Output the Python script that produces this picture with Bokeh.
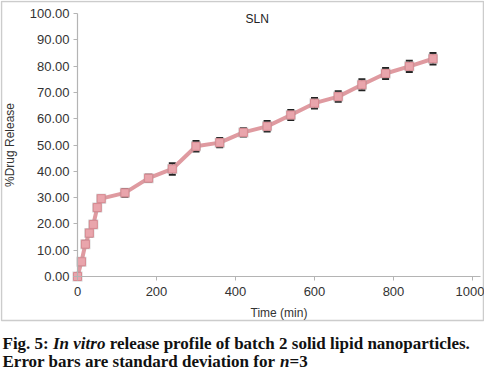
from bokeh.plotting import figure
from bokeh.models import (Range1d, FixedTicker, NumeralTickFormatter, Whisker,
                          TeeHead, ColumnDataSource, Label, BoxAnnotation,
                          LinearAxis)
from bokeh.embed import file_html
from bokeh.resources import INLINE

time_min = [0, 10, 20, 30, 40, 50, 60, 120, 180, 240, 300, 360, 420, 480,
            540, 600, 660, 720, 780, 840, 900]
release = [0.0, 5.6, 12.3, 16.5, 19.8, 26.2, 29.6, 31.8, 37.4, 40.9, 49.5,
           50.9, 54.8, 57.1, 61.4, 65.9, 68.4, 72.9, 77.2, 79.9, 82.8]
sd = [0.5, 1.0, 1.2, 1.2, 1.2, 1.3, 1.0, 1.5, 1.3, 2.2, 2.0, 1.8, 1.6, 2.0,
      1.9, 2.0, 2.0, 2.1, 2.1, 2.1, 2.2]
x_ticks = [0, 200, 400, 600, 800, 1000]
y_ticks = [0, 10, 20, 30, 40, 50, 60, 70, 80, 90, 100]

src = ColumnDataSource(dict(
    x=time_min, y=release,
    lo=[r - s for r, s in zip(release, sd)],
    hi=[r + s for r, s in zip(release, sd)],
))

W, H = 484, 368
# chart geometry in canvas pixels: x=0 at 77, x=1000 at 472; y=0 at 276, y=100 at 13
PX0, PX1000 = 77.0, 472.0
PY0, PY100 = 276.0, 13.0
kx = (PX1000 - PX0) / 1000.0
ky = (PY0 - PY100) / 100.0
X0, X1 = -PX0 / kx, (W - PX0) / kx
Y0, Y1 = -(H - PY0) / ky, PY0 / ky

p = figure(width=W, height=H, output_backend="svg", toolbar_location=None,
           x_range=Range1d(X0, X1), y_range=Range1d(Y0, Y1),
           x_axis_location=None, y_axis_location=None,
           min_border=0, min_border_left=0, min_border_right=0,
           min_border_top=0, min_border_bottom=0)
p.outline_line_color = None
p.xgrid.grid_line_color = None
p.ygrid.grid_line_color = None

xaxis = LinearAxis(fixed_location=0, bounds=(0, 1020),
                   ticker=FixedTicker(ticks=x_ticks), axis_label="Time (min)")
yaxis = LinearAxis(fixed_location=0, bounds=(0, 100),
                   ticker=FixedTicker(ticks=y_ticks),
                   formatter=NumeralTickFormatter(format="0.00"),
                   axis_label="%Drug Release")
for ax in (xaxis, yaxis):
    ax.axis_line_color = "#b4b4b4"
    ax.axis_line_width = 1.2
    ax.major_tick_line_color = "#b4b4b4"
    ax.major_tick_out = 4
    ax.major_tick_in = 0
    ax.minor_tick_line_color = None
    ax.major_label_text_font = "Liberation Sans"
    ax.major_label_text_font_size = "13px"
    ax.major_label_text_color = "#333333"
    ax.axis_label_text_font = "Liberation Sans"
    ax.axis_label_text_font_size = "12px"
    ax.axis_label_text_font_style = "normal"
    ax.axis_label_text_color = "#333333"
xaxis.major_label_standoff = 6
xaxis.axis_label_standoff = 7
yaxis.major_label_standoff = 4
yaxis.axis_label_standoff = 10
p.add_layout(xaxis, "below")
p.add_layout(yaxis, "left")

p.line("x", "y", source=src, line_color="#dc8f96", line_width=4, line_alpha=0.9)

err = Whisker(source=src, base="x", lower="lo", upper="hi",
              line_color="#222222", line_width=1,
              upper_head=TeeHead(size=7, line_color="#222222", line_width=2),
              lower_head=TeeHead(size=7, line_color="#222222", line_width=2))
p.add_layout(err)

p.scatter("x", "y", source=src, marker="square", size=10, fill_color="#9a9a9a",
          line_color=None, fill_alpha=0.45)
p.scatter("x", "y", source=src, marker="square", size=8, fill_color="#e9a5ac",
          line_color="#d98a92", line_width=1)

p.add_layout(Label(x=455, y=98, text="SLN", text_font="Liberation Sans",
                   text_font_size="12px", text_color="#222222",
                   text_align="center", text_baseline="middle"))

# canvas pixel -> data position (frame covers the whole canvas)
def dx(cx):
    return X0 + cx * (X1 - X0) / W

def dy(cy):
    return Y1 - cy * (Y1 - Y0) / H

p.add_layout(BoxAnnotation(left=dx(1), right=dx(W - 1), top=dy(1), bottom=dy(320),
                           fill_alpha=0, line_color="#555555", line_width=1.5))

cap_font = "Liberation Serif"
cap_size = "17px"
pieces = [
    (2, "Fig. 5:", "bold", 343),
    (52.5, "In vitro", "bold italic", 343),
    (109.2, "release profile of batch 2 solid lipid nanoparticles.", "bold", 343),
    (2, "Error bars are standard deviation for", "bold", 361),
    (279.6, "n", "bold italic", 361),
    (289.1, "=3", "bold", 361),
]
for x, t, st, y in pieces:
    p.add_layout(Label(x=dx(x), y=dy(y),
                       text=t, text_font=cap_font, text_font_size=cap_size,
                       text_font_style=st, text_color="#111111",
                       text_baseline="middle"))

open("out.html", "w").write(file_html(p, INLINE))
